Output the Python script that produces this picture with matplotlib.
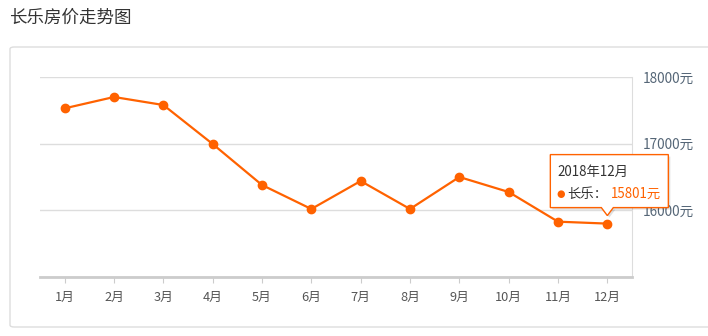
import matplotlib.pyplot as plt
from matplotlib.patches import FancyBboxPatch, Polygon

plt.rcParams['font.family'] = ['Noto Sans CJK SC', 'DejaVu Sans']

# data
months = ['1月', '2月', '3月', '4月', '5月', '6月', '7月', '8月', '9月', '10月', '11月', '12月']
prices = [17530, 17700, 17580, 16995, 16380, 16020, 16440, 16020, 16500, 16275, 15830, 15801]
y_ticks = [15000, 16000, 17000, 18000]
y_labels = ['', '16000元', '17000元', '18000元']
tip_title = '2018年12月'
tip_name = '长乐：'
tip_value = '15801元'

W, H = 708, 336
line_color = '#ff6200'

fig = plt.figure(figsize=(W / 100, H / 100), dpi=100)

def fx(px):
    return px / W

def fy(py):
    return 1 - py / H

# title + panel border
fig.text(fx(9), fy(18), '长乐房价走势图', fontsize=12.6, color='#333333', va='center', ha='left')
panel = FancyBboxPatch((fx(10), fy(327)), fx(720) - fx(10), fy(47) - fy(327),
                       boxstyle='round,pad=0,rounding_size=0.006', transform=fig.transFigure,
                       facecolor='white', edgecolor='#dddddd', linewidth=1, clip_on=False, zorder=-5)
fig.patches.append(panel)

ax = fig.add_axes([fx(40), fy(277), fx(632) - fx(40), fy(77) - fy(277)])
ax.patch.set_alpha(0)
x = list(range(1, len(months) + 1))
ax.plot(x, prices, color=line_color, linewidth=1.6, marker='o', markersize=6,
        markeredgecolor=line_color, zorder=5, clip_on=False)

ax.set_xlim(0.5, 12.5)
ax.set_ylim(15000, 18000)
ax.set_xticks(x)
ax.set_xticklabels(months, fontsize=9.2, color='#555555')
ax.set_yticks(y_ticks)
ax.set_yticklabels(y_labels, fontsize=9.8, color='#556677')
ax.yaxis.tick_right()
ax.tick_params(axis='y', length=0, pad=8)
ax.tick_params(axis='x', length=4, color='#cccccc', pad=6)
ax.grid(axis='y', color='#dddddd', linewidth=1)
ax.set_axisbelow(True)
for s in ['top', 'left']:
    ax.spines[s].set_visible(False)
ax.spines['right'].set_color('#dddddd')
ax.spines['bottom'].set_color('#cccccc')
ax.spines['bottom'].set_linewidth(2)

# tooltip at last point
fig.canvas.draw()
px, py = ax.transData.transform((x[-1], prices[-1]))
px_top = H - py
bx0, bx1 = px - 57, px + 61
by0, by1 = px_top - 69, px_top - 16
tip_x = px
tip_y = px_top - 8
shape = [(fx(bx0), fy(by0)), (fx(bx1), fy(by0)), (fx(bx1), fy(by1)),
         (fx(tip_x + 6), fy(by1)), (fx(tip_x), fy(tip_y)), (fx(tip_x - 6), fy(by1)),
         (fx(bx0), fy(by1))]
shadow = Polygon([(a + fx(2), b - 2 / H) for a, b in shape], closed=True,
                 transform=fig.transFigure, facecolor='#000000', alpha=0.12, edgecolor='none', zorder=8)
box = Polygon(shape, closed=True, transform=fig.transFigure, facecolor='white',
              edgecolor=line_color, linewidth=1, zorder=9)
fig.patches.append(shadow)
fig.patches.append(box)
fig.text(fx(bx0 + 7), fy(by0 + 17), tip_title, fontsize=9.6, color='#333333', va='center', zorder=10)
fig.text(fx(bx0 + 6), fy(by0 + 39), '●', fontsize=7, color=line_color, va='center', zorder=10,
         family=['DejaVu Sans'])
fig.text(fx(bx0 + 17), fy(by0 + 39), tip_name, fontsize=9.6, color='#333333', va='center', zorder=10)
fig.text(fx(bx0 + 61), fy(by0 + 39), tip_value, fontsize=9.6, color=line_color, va='center', zorder=10)

fig.savefig('out.png', dpi=100)
